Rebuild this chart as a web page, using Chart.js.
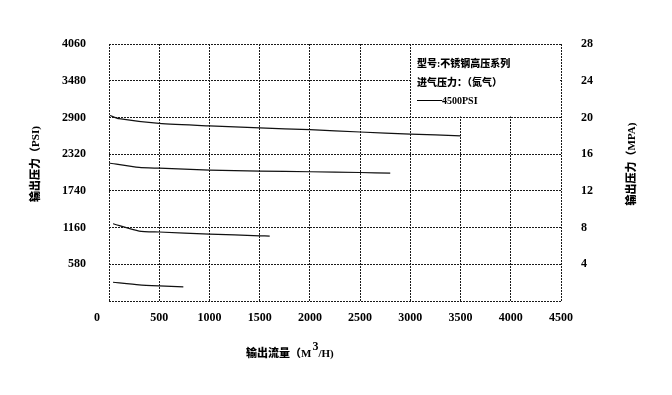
<!DOCTYPE html>
<html>
<head>
<meta charset="utf-8">
<script src="https://cdn.jsdelivr.net/npm/chart.js@4/dist/chart.umd.min.js"></script>
<style>
  html, body { margin: 0; padding: 0; background: #ffffff; }
  canvas { display: block; }
</style>
</head>
<body>
<canvas id="c" width="672" height="395"></canvas>
<script>
// ---- data ----
const xTicks = [0, 500, 1000, 1500, 2000, 2500, 3000, 3500, 4000, 4500];
const psiTicks = [0, 580, 1160, 1740, 2320, 2900, 3480, 4060];
const mpaTicks = [0, 4, 8, 12, 16, 20, 24, 28];

const flowA = [10, 100, 500, 1000, 1500, 2000, 2500, 3000, 3500];
const psiA  = [2930, 2880, 2805, 2765, 2735, 2706, 2670, 2637, 2610];

const flowB = [0, 300, 500, 1000, 1500, 2000, 2500, 2800];
const psiB  = [2180, 2110, 2098, 2068, 2052, 2042, 2030, 2020];

const flowC = [40, 300, 500, 1000, 1500, 1600];
const psiC  = [1220, 1105, 1090, 1058, 1030, 1025];

const flowD = [40, 300, 500, 740];
const psiD  = [296, 255, 238, 222];

const xTitleMain = '输出流量（M';
const xTitleSup = '3';
const xTitleEnd = '/H)';
const yLeftTitle = '输出压力（PSI)';
const yRightTitle = '输出压力（MPA)';
const noteLines = ['型号:不锈钢高压系列', '进气压力：（氮气）'];
const noteSeries = '4500PSI';

function zip(xs, ys) { return xs.map((v, i) => ({ x: v, y: ys[i] })); }

const FONT_FAMILY = '"Liberation Serif", "Noto Sans CJK SC", serif';
const GRID = '#1a1a1a';
const DASH = [2, 1];

const overlay = {
  id: 'overlay',
  beforeDatasetsDraw(chart) {
    const { ctx, scales: { x, y } } = chart;
    // white note box covering the top-right grid cells
    const l = x.getPixelForValue(3000) + 1;
    const r = x.getPixelForValue(4500) - 1;
    const t = y.getPixelForValue(4060) + 1;
    const b = y.getPixelForValue(2900) - 1;
    ctx.save();
    ctx.fillStyle = '#ffffff';
    ctx.fillRect(l, t, r - l, b - t);
    ctx.restore();
  },
  afterDraw(chart) {
    const { ctx } = chart;
    ctx.save();
    ctx.fillStyle = '#000';
    ctx.textBaseline = 'middle';
    // note text
    ctx.font = '900 10px ' + FONT_FAMILY;
    ctx.textAlign = 'left';
    ctx.fillText(noteLines[0], 417, 64);
    ctx.fillText(noteLines[1], 417, 83);
    ctx.strokeStyle = '#000';
    ctx.lineWidth = 1;
    ctx.beginPath();
    ctx.moveTo(417, 100.5);
    ctx.lineTo(442, 100.5);
    ctx.stroke();
    ctx.font = 'bold 10px ' + FONT_FAMILY;
    ctx.fillText(noteSeries, 442, 101);

    // y titles
    ctx.font = '900 11px ' + FONT_FAMILY;
    ctx.textAlign = 'center';
    ctx.save();
    ctx.translate(36, 164);
    ctx.rotate(-Math.PI / 2);
    ctx.fillText(yLeftTitle, 0, 0);
    ctx.restore();
    ctx.save();
    ctx.translate(632, 164);
    ctx.rotate(-Math.PI / 2);
    ctx.fillText(yRightTitle, 0, 0);
    ctx.restore();

    // x title with superscript
    ctx.textAlign = 'left';
    let px = 246;
    ctx.font = '900 11px ' + FONT_FAMILY;
    ctx.fillText(xTitleMain, px, 354);
    px += ctx.measureText(xTitleMain).width + 1;
    ctx.font = 'bold 12px ' + FONT_FAMILY;
    ctx.fillText(xTitleSup, px, 347);
    px += ctx.measureText(xTitleSup).width;
    ctx.font = '900 11px ' + FONT_FAMILY;
    ctx.fillText(xTitleEnd, px, 354);
    ctx.restore();
  }
};

const lineStyle = {
  borderColor: '#111',
  borderWidth: 1.2,
  pointRadius: 0,
  fill: false,
  tension: 0.2,
  yAxisID: 'y'
};

new Chart(document.getElementById('c'), {
  type: 'line',
  data: {
    datasets: [
      Object.assign({ label: 'A', data: zip(flowA, psiA) }, lineStyle),
      Object.assign({ label: 'B', data: zip(flowB, psiB) }, lineStyle),
      Object.assign({ label: 'C', data: zip(flowC, psiC) }, lineStyle),
      Object.assign({ label: 'D', data: zip(flowD, psiD) }, lineStyle)
    ]
  },
  options: {
    responsive: false,
    animation: false,
    layout: { padding: { top: 44, left: 0, right: 0, bottom: 0 } },
    plugins: { legend: { display: false }, tooltip: { enabled: false } },
    scales: {
      x: {
        type: 'linear',
        min: xTicks[0],
        max: xTicks[xTicks.length - 1],
        afterBuildTicks(s) { s.ticks = xTicks.map(v => ({ value: v })); },
        afterFit(s) { s.height = 94; },
        grid: { color: GRID, lineWidth: 1, drawTicks: false },
        border: { display: false, dash: DASH },
        ticks: {
          padding: 10,
          maxRotation: 0,
          autoSkip: false,
          color: '#000',
          font: { family: FONT_FAMILY, size: 12, weight: 'bold' },
          callback: v => v === 0 ? '0' + '\u2007\u2007\u2007\u2007' : String(v)
        }
      },
      y: {
        position: 'left',
        min: psiTicks[0],
        max: psiTicks[psiTicks.length - 1],
        afterBuildTicks(s) { s.ticks = psiTicks.map(v => ({ value: v })); },
        afterFit(s) { s.width = 109; },
        grid: { color: GRID, lineWidth: 1, drawTicks: false },
        border: { display: false, dash: DASH },
        ticks: {
          padding: 23,
          color: '#000',
          font: { family: FONT_FAMILY, size: 12, weight: 'bold' },
          callback: v => v === 0 ? '' : String(v)
        }
      },
      y2: {
        position: 'right',
        min: mpaTicks[0],
        max: mpaTicks[mpaTicks.length - 1],
        afterBuildTicks(s) { s.ticks = mpaTicks.map(v => ({ value: v })); },
        afterFit(s) { s.width = 111; },
        grid: { display: false, drawTicks: false },
        border: { display: false },
        ticks: {
          padding: 20,
          color: '#000',
          font: { family: FONT_FAMILY, size: 12, weight: 'bold' },
          callback: v => v === 0 ? '' : String(v)
        }
      }
    }
  },
  plugins: [overlay]
});
</script>
</body>
</html>
